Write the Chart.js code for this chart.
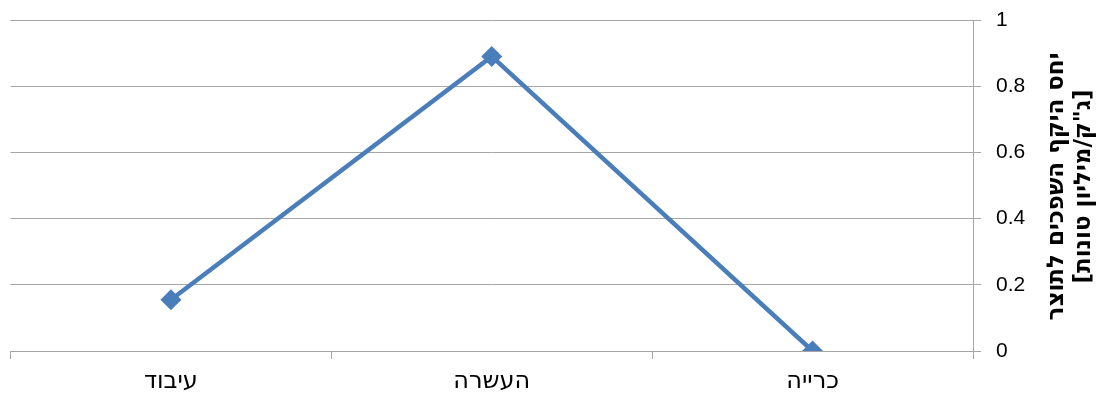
<!DOCTYPE html>
<html lang="he">
<head>
<meta charset="utf-8">
<script src="https://cdn.jsdelivr.net/npm/chart.js@4.4.0/dist/chart.umd.min.js"></script>
<style>
  html, body { margin: 0; padding: 0; background: #fff; }
  #wrap { width: 1104px; height: 397px; position: relative; }
</style>
</head>
<body>
<div id="wrap"><canvas id="spillChart"></canvas></div>
<script>
// stages of the process, right to left
const stages = ["כרייה", "העשרה", "עיבוד"];
const spillRatio = [0, 0.89, 0.155];
const yTicks = [0, 0.2, 0.4, 0.6, 0.8, 1];
const yTitleLines = ["יחס היקף השפכים לתוצר", "[ג\"ק/מיליון טונות]"];

const FONT = "'Liberation Sans', 'DejaVu Sans', Arial, sans-serif";
const HEB = "'DejaVu Sans', 'Liberation Sans', sans-serif";
const GRID = "#a6a6a6";
const BLUE = "#4a7ebb";

// vertical two-line title beside the right axis
const yTitlePlugin = {
  id: "yTitle",
  afterDraw(chart) {
    const { ctx, chartArea } = chart;
    const cy = (chartArea.top + chartArea.bottom) / 2 + 1;
    ctx.save();
    ctx.fillStyle = "#000";
    ctx.font = "bold 23px " + HEB;
    ctx.textAlign = "center";
    ctx.textBaseline = "middle";
    const xs = [1057, 1084];
    yTitleLines.forEach((line, i) => {
      ctx.save();
      ctx.translate(xs[i], cy);
      ctx.rotate(-Math.PI / 2);
      ctx.direction = "rtl";
      ctx.fillText(line, 0, 0);
      ctx.restore();
    });
    ctx.restore();
  }
};

const ctx = document.getElementById("spillChart").getContext("2d");
new Chart(ctx, {
  type: "line",
  data: {
    labels: stages,
    datasets: [{
      data: spillRatio,
      borderColor: BLUE,
      backgroundColor: BLUE,
      borderWidth: 4.5,
      tension: 0,
      pointStyle: "rectRot",
      pointRadius: 10.5,
      pointHoverRadius: 10.5,
      pointBorderWidth: 0
    }]
  },
  options: {
    responsive: true,
    maintainAspectRatio: false,
    animation: false,
    layout: { padding: { left: 10, top: 20, right: 0, bottom: 0 } },
    plugins: {
      legend: { display: false },
      tooltip: { enabled: false }
    },
    scales: {
      x: {
        reverse: true,
        offset: true,
        grid: {
          offset: true,
          drawOnChartArea: false,
          drawTicks: true,
          tickLength: 8,
          color: GRID
        },
        border: { color: GRID, width: 1 },
        ticks: {
          color: "#000",
          font: { family: HEB, size: 24 },
          padding: 8,
          maxRotation: 0
        },
        afterFit(scale) {
          scale.height = 46;
          scale.paddingLeft = 0;
          scale.paddingRight = 0;
        }
      },
      y: {
        position: "right",
        min: 0,
        max: 1,
        afterBuildTicks(scale) {
          scale.ticks = yTicks.map(v => ({ value: v }));
        },
        grid: {
          color: GRID,
          drawTicks: true,
          tickLength: 8,
          lineWidth: 1
        },
        border: { color: GRID, width: 1 },
        ticks: {
          color: "#000",
          font: { family: FONT, size: 21 },
          padding: 15,
          callback: v => String(Math.round(v * 10) / 10)
        },
        afterFit(scale) {
          scale.width = 131;
          scale.paddingTop = 0;
          scale.paddingBottom = 0;
        }
      }
    }
  },
  plugins: [yTitlePlugin]
});
</script>
</body>
</html>
